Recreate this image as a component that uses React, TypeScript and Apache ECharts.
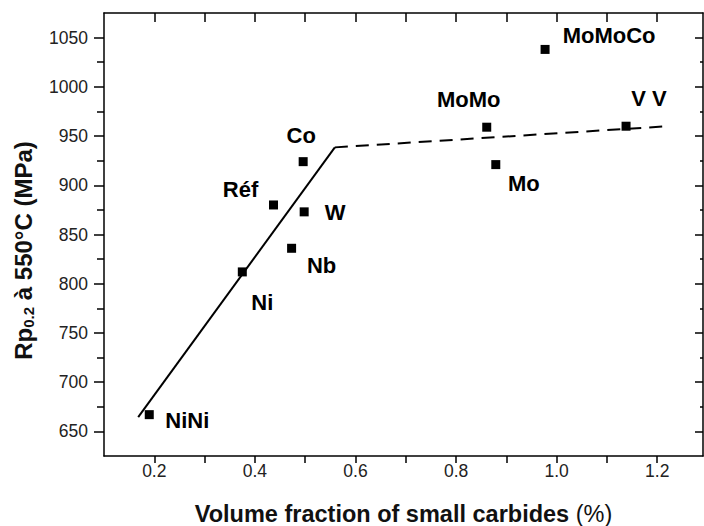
import React, { useEffect, useRef } from 'react';
import * as echarts from 'echarts';

// ---- data ----
const alloyNames = ['NiNi', 'Ni', 'Réf', 'Nb', 'Co', 'W', 'MoMo', 'Mo', 'MoMoCo', 'V V'];
const carbideFraction = [0.19, 0.375, 0.437, 0.473, 0.496, 0.498, 0.861, 0.879, 0.977, 1.138];
const rpStrength = [667, 812, 880, 836, 924, 873, 959, 921, 1038, 960];

const solidFitX = [0.168, 0.559];
const solidFitY = [664.5, 938.5];
const dashedFitX = [0.559, 1.222];
const dashedFitY = [938.5, 960];

const xLabelValues = [0.2, 0.4, 0.6, 0.8, 1.0, 1.2];
const xTickValues = [0.2, 0.3, 0.4, 0.5, 0.6, 0.7, 0.8, 0.9, 1.0, 1.1, 1.2];
const yLabelValues = [650, 700, 750, 800, 850, 900, 950, 1000, 1050];
const yMinorValues = [675, 725, 775, 825, 875, 925, 975, 1025];

// ---- layout (label offsets from each point, px) ----
const labelOffsets: [number, number][] = [
  [38, 6], [20, 31], [-33, -15], [30, 17], [-2, -26], [31, 1], [-18, -28], [28, 19], [64, -14], [23, -28],
];

const X_MIN = 0.1;
const X_MAX = 1.291;
const Y_MIN = 625;
const Y_MAX = 1075;
const FONT = 'Liberation Sans, Arial, Helvetica, sans-serif';
const emptyLabel = { show: true, formatter: () => '' };

export default function App() {
  const ref = useRef<HTMLDivElement>(null);
  useEffect(() => {
    if (!ref.current) return;
    const chart = echarts.init(ref.current, undefined, { renderer: 'svg' });
    const axisLine = { show: true, lineStyle: { color: '#000', width: 1.5 } };
    const tickLine = { color: '#000', width: 1.5 };
    const baseY = { type: 'value', min: Y_MIN, max: Y_MAX, interval: 25, splitLine: { show: false } };
    const baseX = { type: 'value', min: X_MIN, max: X_MAX, interval: 0.1, splitLine: { show: false } };
    chart.setOption({
      animation: false,
      backgroundColor: '#fff',
      textStyle: { fontFamily: FONT },
      grid: { left: 104, right: 1, top: 13, bottom: 70, containLabel: false, outerBoundsMode: 'none' },
      xAxis: [
        {
          ...baseX,
          position: 'bottom',
          axisLine,
          axisTick: { show: true, inside: false, length: 7, customValues: xTickValues, lineStyle: tickLine },
          axisLabel: {
            show: true,
            customValues: xLabelValues,
            formatter: (v: number) => v.toFixed(1),
            color: '#222',
            fontSize: 17.5,
            fontFamily: FONT,
            margin: 6,
          },
          name: '{b|Volume fraction of small carbides }{r|(%)}',
          nameLocation: 'middle',
          nameGap: 46,
          nameTextStyle: {
            rich: {
              b: { fontSize: 23.5, fontWeight: 'bold', color: '#111', fontFamily: FONT },
              r: { fontSize: 23.5, fontWeight: 'normal', color: '#111', fontFamily: FONT },
            },
          },
        },
        {
          ...baseX,
          position: 'top',
          axisLine,
          axisTick: { show: true, inside: true, length: 9, customValues: xTickValues, lineStyle: tickLine },
          axisLabel: { ...emptyLabel, customValues: xLabelValues },
        },
      ],
      yAxis: [
        {
          ...baseY,
          position: 'left',
          axisLine,
          axisTick: { show: true, inside: false, length: 10, customValues: yLabelValues, lineStyle: tickLine },
          axisLabel: {
            show: true,
            customValues: yLabelValues,
            formatter: (v: number) => String(v),
            color: '#222',
            fontSize: 17.5,
            fontFamily: FONT,
            margin: 16,
          },
          name: '{m|Rp}{s|0.2}{m| à 550°C (MPa)}',
          nameLocation: 'middle',
          nameRotate: 90,
          nameGap: 68,
          nameTextStyle: {
            padding: [0, 32, 0, 0],
            rich: {
              m: { fontSize: 24, fontWeight: 'bold', color: '#111', fontFamily: FONT, lineHeight: 26 },
              s: { fontSize: 15, fontWeight: 'bold', color: '#111', fontFamily: FONT, lineHeight: 15, verticalAlign: 'bottom' },
            },
          },
        },
        {
          ...baseY,
          position: 'left',
          axisLine: { show: false },
          axisTick: { show: true, inside: false, length: 7, customValues: yMinorValues, lineStyle: tickLine },
          axisLabel: { ...emptyLabel, customValues: yMinorValues },
        },
        {
          ...baseY,
          position: 'right',
          axisLine,
          axisTick: { show: true, inside: true, length: 8, customValues: yLabelValues, lineStyle: tickLine },
          axisLabel: { ...emptyLabel, customValues: yLabelValues },
        },
        {
          ...baseY,
          position: 'right',
          axisLine: { show: false },
          axisTick: { show: true, inside: true, length: 3, customValues: yMinorValues, lineStyle: tickLine },
          axisLabel: { ...emptyLabel, customValues: yMinorValues },
        },
      ],
      series: [
        {
          type: 'line',
          data: solidFitX.map((x, i) => [x, solidFitY[i]]),
          showSymbol: false,
          symbol: 'none',
          lineStyle: { color: '#000', width: 2, type: 'solid' },
          silent: true,
          z: 2,
        },
        {
          type: 'line',
          data: dashedFitX.map((x, i) => [x, dashedFitY[i]]),
          showSymbol: false,
          symbol: 'none',
          lineStyle: { color: '#000', width: 2, type: [13, 8] },
          silent: true,
          z: 2,
        },
        {
          type: 'scatter',
          symbol: 'rect',
          symbolSize: 9,
          itemStyle: { color: '#000', opacity: 1 },
          z: 3,
          data: alloyNames.map((name, i) => ({
            name,
            value: [carbideFraction[i], rpStrength[i]],
            label: { offset: labelOffsets[i] },
          })),
          label: {
            show: true,
            position: 'inside',
            formatter: (p: any) => p.name,
            color: '#000',
            fontSize: 22,
            fontWeight: 'bold',
            fontFamily: FONT,
          },
        },
      ],
    });
    return () => chart.dispose();
  }, []);
  return <div ref={ref} style={{ width: 704, height: 526, position: 'absolute', left: 0, top: 0 }} />;
}
